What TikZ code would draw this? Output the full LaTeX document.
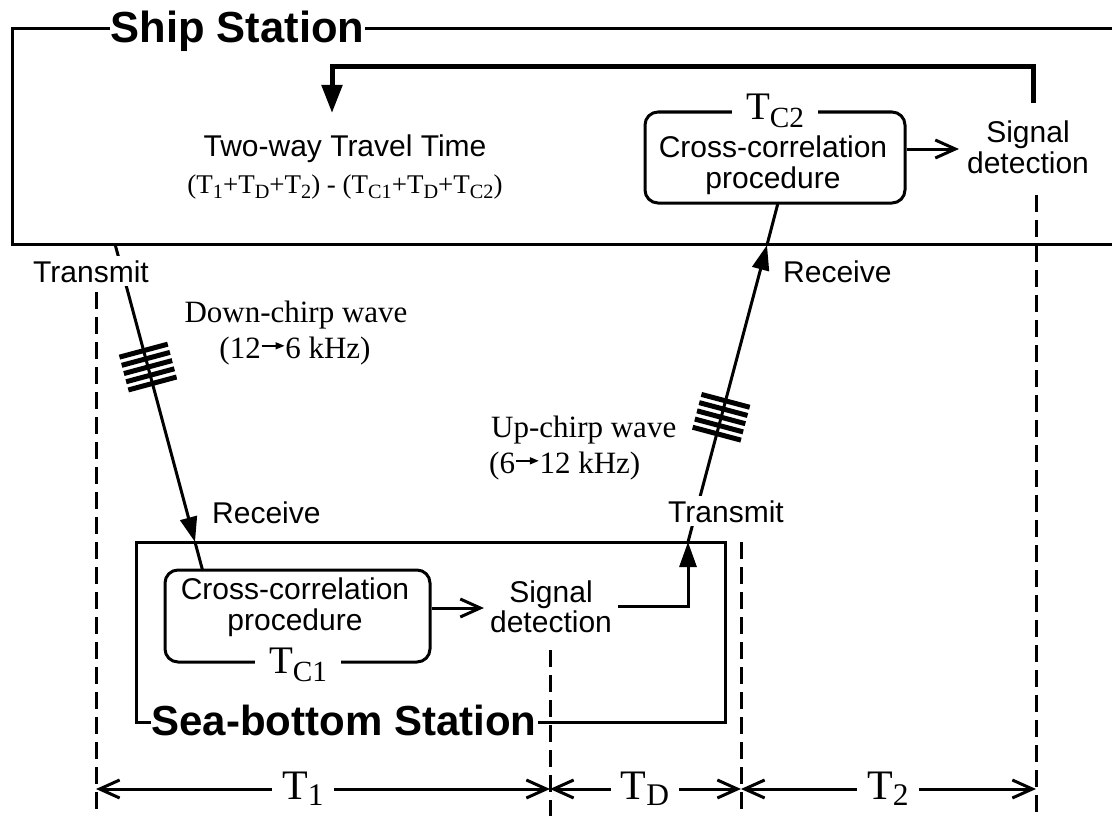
\documentclass[tikz,border=0pt]{standalone}
\usepackage{fontspec}
\setmainfont{Liberation Serif}
\setsansfont{Liberation Sans}
\usetikzlibrary{arrows.meta,decorations.markings}
\newcommand{\sbs}[1]{\raisebox{-0.22em}{\scalebox{0.75}{#1}}}
\newcommand{\dsbs}[1]{\raisebox{-0.15em}{\scalebox{0.75}{#1}}}
\newcommand{\rarr}{\raisebox{0.28em}{\tikz[x=1pt,y=1pt]\draw[line width=1.6pt,-{Triangle[length=9pt,width=7pt]}] (0,0) -- (23,0);}}
\begin{document}
\begin{tikzpicture}[x=1pt,y=-1pt,
  lbl/.style={font=\sffamily\fontsize{30}{30.5}\selectfont, inner sep=0pt, align=center},
  wlabel/.style={font=\sffamily\fontsize{30}{30.5}\selectfont, fill=white, inner sep=4pt},
  serif/.style={font=\rmfamily\fontsize{31}{36}\selectfont, inner sep=0pt},
  formula/.style={font=\rmfamily\fontsize{27}{30}\selectfont, inner sep=0pt},
  title/.style={font=\sffamily\bfseries\fontsize{#1}{44}\selectfont, fill=white, inner xsep=1pt, inner ysep=1pt},
  tlabel/.style={font=\rmfamily\fontsize{39}{42}\selectfont, fill=white, inner xsep=14pt, inner ysep=2pt},
  dimlabel/.style={font=\rmfamily\fontsize{42}{44}\selectfont, inner xsep=10pt, inner ysep=0pt},
  frame/.style={draw, line width=3pt, inner sep=0pt},
  rbox/.style={draw, line width=3pt, rounded corners=13pt, inner sep=0pt},
  plain/.style={line width=3pt},
  thinarrow/.style={line width=3pt, -{Straight Barb[length=20pt,width=18pt]}},
  fillarrow/.style={line width=3pt, -{Triangle[length=25pt,width=17pt]}},
  fbarrow/.style={line width=5pt, -{Triangle[length=28pt,width=20pt]}},
  guide/.style={line width=3pt, dash pattern=on 17pt off 8pt},
  chirp/.style={decoration={markings, mark=at position #1 with {\foreach \k in {-2,...,2}{\draw[line width=5pt] (\k*8.5pt,-25pt) -- (\k*8.5pt,25pt);}}}, decorate},
]
\fill[white] (0,0) rectangle (1112,816);
\useasboundingbox (0,0) rectangle (1112,816);

% station frames
\node[frame, minimum width=1200pt, minimum height=215pt] (ship) at (612,136.5) {};
\node[frame, minimum width=589pt, minimum height=180pt] (sea) at (430.5,632) {};

% rounded boxes
\node[rbox, minimum width=260pt, minimum height=91pt] (cc2) at (775,157.5) {};
\node[rbox, minimum width=265pt, minimum height=92pt] (cc1) at (297.5,616) {};
\node[lbl] (cc2t) at (773,165) {Cross-correlation\\procedure};
\node[lbl] (cc1t) at (295,607) {Cross-correlation\\procedure};

% signal detection
\node[lbl] (sdship) at (1028,147.5) {Signal\\detection};
\node[lbl] (sdsea) at (551,607) {Signal\\detection};

% two-way travel time
\node[lbl, anchor=base] (twt) at (345,157) {Two-way Travel Time};
\node[formula, anchor=base] (form) at (345,193) {(T\sbs{1}+T\sbs{D}+T\sbs{2}) - (T\sbs{C1}+T\sbs{D}+T\sbs{C2})};

% coordinates
\coordinate (fb0) at (1033,103);
\coordinate (fbtip) at (332,113);
\coordinate (d0) at (115,244);
\coordinate (d1) at (195,542);
\coordinate (d2) at (202.5,570);
\coordinate (u0) at (688,542);
\coordinate (u1) at (767,245);
\coordinate (u2) at (778,203);
\coordinate (g1) at (96,292);
\coordinate (g2) at (550,650);
\coordinate (g3) at (741,542);
\coordinate (g4) at (1036,195);
\coordinate (dimy) at (0,789);
\coordinate (boty) at (0,816);

% feedback arrow
\draw[fbarrow] (fb0) |- (fbtip |- 0,67) -- (fbtip);

% arrows to signal detection
\draw[thinarrow] (cc2.east |- 0,149) -- ([xshift=-8pt]sdship.west |- 0,149);
\draw[thinarrow] (cc1.east |- 0,608) -- ([xshift=-6pt]sdsea.west |- 0,608);
\draw[fillarrow] ([xshift=6pt]sdsea.east |- 0,606) -| (u0);

% down-chirp path
\draw[fillarrow] (d0) -- (d1);
\draw[plain] (d1) -- (d2);
\path[chirp=0.413] (d0) -- (d1);

% up-chirp path
\draw[fillarrow] (u0) -- (u1);
\draw[plain] (u1) -- (u2);
\path[chirp=0.42] (u0) -- (u1);

% dashed guides
\draw[guide] (g1) -- (g1 |- boty);
\draw[guide] (g2) -- (g2 |- boty);
\draw[guide] (g3) -- (g3 |- boty);
\draw[guide] (g4) -- (g4 |- boty);

% labels on lines
\node[title=43.5, anchor=base] (shiptitle) at (237.5,43) {Ship Station};
\node[title=42, anchor=base] (seatitle) at (344,735) {Sea-bottom Station};
\node[tlabel, anchor=base] (tc2) at (775,119) {T\sbs{C2}};
\node[tlabel, anchor=base] (tc1) at (298,673) {T\sbs{C1}};
\node[wlabel, anchor=base west] (tr1) at (29,282) {Transmit};
\node[wlabel, anchor=base west] (tr2) at (664,522) {Transmit};
\node[lbl, anchor=base west] (rc1) at (783,282) {Receive};
\node[lbl, anchor=base west] (rc2) at (212,523) {Receive};

% chirp labels
\node[serif, anchor=base] (dcw) at (296,322) {Down-chirp wave};
\node[serif, anchor=base] (dcf) at (295,358) {(12\rarr6 kHz)};
\node[serif, anchor=base west] (ucw) at (491,437) {Up-chirp wave};
\node[serif, anchor=base west] (ucf) at (489,473) {(6\rarr12 kHz)};

% dimensions
\node[dimlabel, anchor=base] (t1) at (303,799) {T\dsbs{1}};
\node[dimlabel, anchor=base] (td) at (645,799) {T\dsbs{D}};
\node[dimlabel, anchor=base] (t2) at (888,799) {T\dsbs{2}};
\draw[thinarrow] (t1.west |- dimy) -- (g1 |- dimy);
\draw[thinarrow] (t1.east |- dimy) -- (g2 |- dimy);
\draw[thinarrow] (td.west |- dimy) -- (g2 |- dimy);
\draw[thinarrow] (td.east |- dimy) -- (g3 |- dimy);
\draw[thinarrow] (t2.west |- dimy) -- (g3 |- dimy);
\draw[thinarrow] (t2.east |- dimy) -- (g4 |- dimy);
\end{tikzpicture}
\end{document}
